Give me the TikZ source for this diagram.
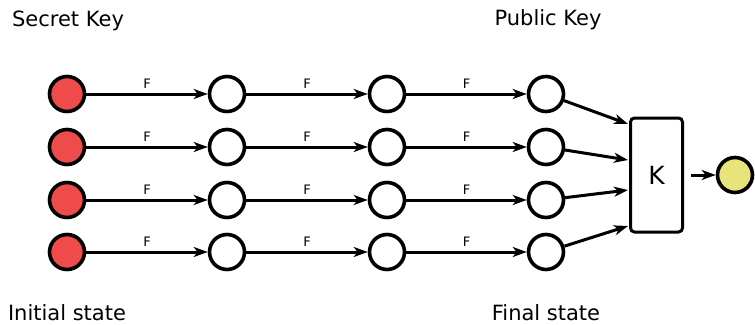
\documentclass[tikz,border=0pt]{standalone}
\usepackage{fontspec}
\setmainfont{DejaVu Sans}
\usetikzlibrary{arrows.meta}
\definecolor{keyred}{HTML}{EF4B4B}
\definecolor{outyellow}{HTML}{E8E47A}
\begin{document}
\begin{tikzpicture}[x=1pt,y=-1pt,
  state/.style={circle,draw=black,line width=3.6pt,minimum size=35pt,inner sep=0pt,fill=white},
  seed/.style={state,fill=keyred},
  result/.style={state,fill=outyellow},
  flow/.style={line width=3pt,-{Stealth[length=14pt,width=10pt,inset=4pt]}},
  fun/.style={font=\fontsize{13}{13}\selectfont,midway,above,yshift=4pt,inner sep=0pt},
  caption/.style={font=\fontsize{21}{22}\selectfont,inner sep=0pt,anchor=base},
  kbox/.style={draw=black,line width=3pt,rounded corners=4pt,minimum width=52pt,minimum height=114pt,fill=white,font=\fontsize{25}{25}\selectfont}]
\useasboundingbox (0,0) rectangle (755,324);

% hash chains: four rows, four states each
\foreach \r/\y in {1/94,2/147,3/200,4/252}{
  \node[seed]  (n\r1) at (67,\y)  {};
  \node[state] (n\r2) at (227,\y) {};
  \node[state] (n\r3) at (387,\y) {};
  \node[state] (n\r4) at (546,\y) {};
  \draw[flow] (n\r1) -- node[fun]{F} (n\r2);
  \draw[flow] (n\r2) -- node[fun]{F} (n\r3);
  \draw[flow] (n\r3) -- node[fun]{F} (n\r4);
}

% compression of the final states
\node[kbox] (k) at (656.5,175) {K};
\node[result] (pk) at (735,175) {};

\coordinate (k1) at (628,124);
\coordinate (k2) at (628,160);
\coordinate (k3) at (628,190);
\coordinate (k4) at (628,226);
\foreach \r in {1,2,3,4}{
  \draw[flow] (n\r4) -- (k\r);
}
\coordinate (kout) at (691,175);
\draw[flow] (kout) -- (pk);

% captions
\node[caption] (sk) at (68,27)  {Secret Key};
\node[caption] (pub) at (548,25) {Public Key};
\node[caption] (ini) at (67,320) {Initial state};
\node[caption] (fin) at (546,320) {Final state};
\end{tikzpicture}
\end{document}
